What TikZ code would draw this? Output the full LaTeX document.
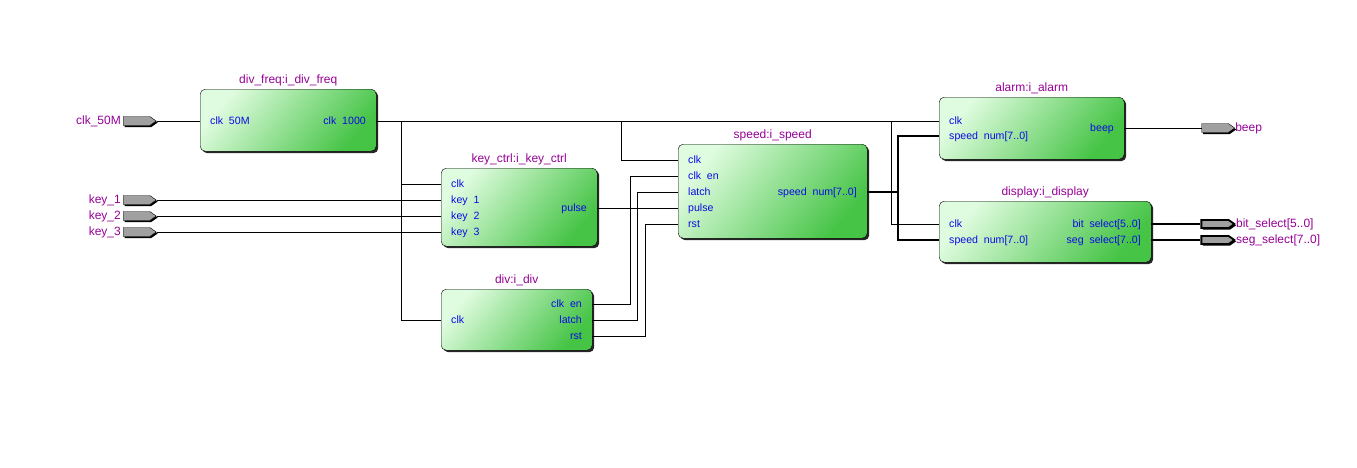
\documentclass[tikz,border=0pt]{standalone}
\usepackage{fontspec}
\setmainfont{Liberation Sans}
\usepackage{xcolor}
\usepackage{tikz}
\usetikzlibrary{positioning, shapes.symbols, shadows}

\definecolor{modlight}{RGB}{224,252,224}
\definecolor{moddark}{RGB}{70,196,70}
\definecolor{titlecol}{RGB}{150,0,150}
\definecolor{portcol}{RGB}{10,10,230}
\definecolor{pingray}{RGB}{160,160,160}

\newcommand{\ugap}{\hspace{0.55em}}

\begin{document}
\begin{tikzpicture}[x=1pt,y=-1pt,node distance=10pt,
    mod node/.style={draw,rounded corners=5pt,anchor=north west,inner sep=0pt,
      top color=modlight,bottom color=moddark,shading angle=50,
      drop shadow={shadow xshift=2pt,shadow yshift=-2pt,fill=black!85,opacity=1}},
    title node/.style={inner sep=0pt,text=titlecol,font=\fontsize{12}{14}\selectfont},
    port in/.style={inner sep=0pt,anchor=west,text=portcol,text height=8pt,text depth=1pt,
      font=\fontsize{10.6}{12}\selectfont},
    port out/.style={port in,anchor=east},
    pin node/.style={signal,signal to=east,signal pointer angle=70,draw,fill=pingray,
      minimum width=33pt,minimum height=9pt,inner sep=0pt,
      drop shadow={shadow xshift=1.5pt,shadow yshift=-1.5pt,fill=black,opacity=1}},
    bus pin/.style={pin node,line width=1.8pt,minimum height=8pt},
    pin label/.style={inner sep=0pt,text=titlecol,text height=8.5pt,text depth=1pt,
      font=\fontsize{12}{14}\selectfont},
    wire/.style={line width=1pt},
    bus/.style={line width=2.2pt}]

  \useasboundingbox (0,0) rectangle (1357,467);

  % modules
  \node[mod node,minimum width=176pt,minimum height=62pt] (divfreq) at (200,89) {};
  \node[mod node,minimum width=156pt,minimum height=78pt] (keyctrl) at (441,168) {};
  \node[mod node,minimum width=151pt,minimum height=61pt] (div) at (441,289) {};
  \node[mod node,minimum width=189pt,minimum height=94pt] (speed) at (678,144) {};
  \node[mod node,minimum width=185pt,minimum height=62pt] (alarm) at (939,97) {};
  \node[mod node,minimum width=212pt,minimum height=61pt] (display) at (939,201) {};

  \node[title node,above=3pt of divfreq] {div\_freq:i\_div\_freq};
  \node[title node,above=3pt of keyctrl] {key\_ctrl:i\_key\_ctrl};
  \node[title node,above=3pt of div] {div:i\_div};
  \node[title node,above=3pt of speed] {speed:i\_speed};
  \node[title node,above=3pt of alarm] {alarm:i\_alarm};
  \node[title node,above=3pt of display] {display:i\_display};

  % ports
  \coordinate (df-in) at (200,121);
  \coordinate (df-out) at (376,121);
  \node[port in,right=of df-in] {clk\ugap 50M};
  \node[port out,left=of df-out] {clk\ugap 1000};

  \coordinate (kc-clk) at (441,184);
  \coordinate (kc-k1) at (441,200);
  \coordinate (kc-k2) at (441,216);
  \coordinate (kc-k3) at (441,232);
  \coordinate (kc-pulse) at (597,208);
  \node[port in,right=of kc-clk] {clk};
  \node[port in,right=of kc-k1] {key\ugap 1};
  \node[port in,right=of kc-k2] {key\ugap 2};
  \node[port in,right=of kc-k3] {key\ugap 3};
  \node[port out,left=of kc-pulse] {pulse};

  \coordinate (dv-clk) at (441,320);
  \coordinate (dv-clken) at (592,304);
  \coordinate (dv-latch) at (592,320);
  \coordinate (dv-rst) at (592,336);
  \node[port in,right=of dv-clk] {clk};
  \node[port out,left=of dv-clken] {clk\ugap en};
  \node[port out,left=of dv-latch] {latch};
  \node[port out,left=of dv-rst] {rst};

  \coordinate (sp-clk) at (678,160);
  \coordinate (sp-clken) at (678,176);
  \coordinate (sp-latch) at (678,192);
  \coordinate (sp-pulse) at (678,208);
  \coordinate (sp-rst) at (678,224);
  \coordinate (sp-num) at (867,192);
  \node[port in,right=of sp-clk] {clk};
  \node[port in,right=of sp-clken] {clk\ugap en};
  \node[port in,right=of sp-latch] {latch};
  \node[port in,right=of sp-pulse] {pulse};
  \node[port in,right=of sp-rst] {rst};
  \node[port out,left=of sp-num] {speed\ugap num[7..0]};

  \coordinate (al-clk) at (939,121);
  \coordinate (al-num) at (939,136);
  \coordinate (al-beep) at (1124,128);
  \node[port in,right=of al-clk] {clk};
  \node[port in,right=of al-num] {speed\ugap num[7..0]};
  \node[port out,left=of al-beep] {beep};

  \coordinate (ds-clk) at (939,224);
  \coordinate (ds-num) at (939,240);
  \coordinate (ds-bit) at (1151,224);
  \coordinate (ds-seg) at (1151,240);
  \node[port in,right=of ds-clk] {clk};
  \node[port in,right=of ds-num] {speed\ugap num[7..0]};
  \node[port out,left=of ds-bit] {bit\ugap select[5..0]};
  \node[port out,left=of ds-seg] {seg\ugap select[7..0]};

  % wires
  \coordinate (j1) at (401,121);
  \coordinate (j2) at (621,121);
  \coordinate (j3) at (891,121);
  \coordinate (j4) at (898,192);

  \draw[wire] (df-out) -- (al-clk);
  \draw[wire] (j1) |- (dv-clk);
  \draw[wire] (j1 |- kc-clk) -- (kc-clk);
  \draw[wire] (j2) |- (sp-clk);
  \draw[wire] (j3) |- (ds-clk);
  \draw[wire] (kc-pulse) -- (sp-pulse);
  \draw[wire] (dv-clken) -- ++(38,0) |- (sp-clken);
  \draw[wire] (dv-latch) -- ++(45,0) |- (sp-latch);
  \draw[wire] (dv-rst) -- ++(53,0) |- (sp-rst);
  \draw[bus] (sp-num) -- (j4);
  \draw[bus] (al-num) -| (j4) |- (ds-num);

  % pins
  \node[pin node] (clk50) at (136.5,121) {};
  \node[pin node] (key1) at (136.5,200) {};
  \node[pin node] (key2) at (136.5,216) {};
  \node[pin node] (key3) at (136.5,232) {};
  \node[pin node] (beep) at (1215,128) {};
  \node[bus pin] (bitsel) at (1215,224) {};
  \node[bus pin] (segsel) at (1215,240) {};

  \node[pin label,left=2pt of clk50] {clk\_50M};
  \node[pin label,left=2pt of key1] {key\_1};
  \node[pin label,left=2pt of key2] {key\_2};
  \node[pin label,left=2pt of key3] {key\_3};
  \node[pin label,right=0pt of beep] {beep};
  \node[pin label,right=0pt of bitsel] {bit\_select[5..0]};
  \node[pin label,right=0pt of segsel] {seg\_select[7..0]};

  \draw[wire] (clk50.east) -- (df-in);
  \draw[wire] (key1.east) -- (kc-k1);
  \draw[wire] (key2.east) -- (kc-k2);
  \draw[wire] (key3.east) -- (kc-k3);
  \draw[wire] (al-beep) -- (beep.west);
  \draw[bus] (ds-bit) -- (bitsel.west);
  \draw[bus] (ds-seg) -- (segsel.west);
\end{tikzpicture}
\end{document}
